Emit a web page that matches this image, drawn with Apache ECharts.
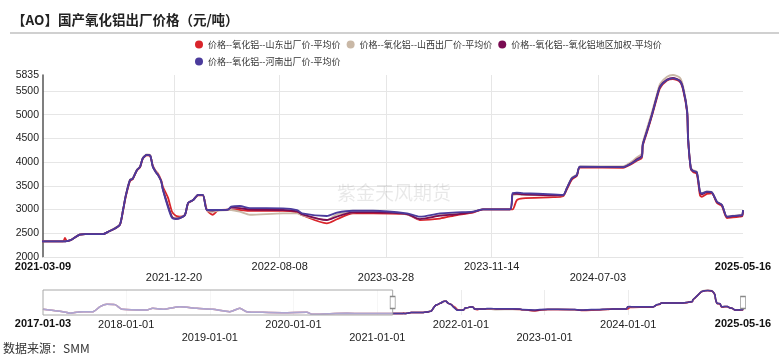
<!DOCTYPE html>
<html><head><meta charset="utf-8">
<script src="https://cdn.jsdelivr.net/npm/echarts@6.0.0/dist/echarts.min.js"></script>
<style>html,body{margin:0;padding:0;background:#fff}#c{width:779px;height:356px}</style>
</head><body><div id="c"></div><script>
const titleText = '【AO】国产氧化铝出厂价格（元/吨）';
const sourceText = '数据来源：SMM';
const watermarkText = '紫金天风期货';
const seriesNames = ['价格--氧化铝--山东出厂价-平均价','价格--氧化铝--山西出厂价-平均价','价格--氧化铝--氧化铝地区加权-平均价','价格--氧化铝--河南出厂价-平均价'];
const mainLabels = ['2021-03-09','2021-12-20','2022-08-08','2023-03-28','2023-11-14','2024-07-03','2025-05-16'];
const overviewLabels = ['2017-01-03','2018-01-01','2019-01-01','2020-01-01','2021-01-01','2022-01-01','2023-01-01','2024-01-01','2025-05-16'];
const yTicks = [2000,2500,3000,3500,4000,4500,5000,5500];
const overviewMin = 2100;

const dates = [
'2017-01-03','2017-03-31','2017-05-01','2017-05-31','2017-06-27','2017-08-09','2017-09-09','2017-10-09','2017-11-13','2017-12-14',
'2018-04-01','2018-04-27','2018-06-10','2018-08-23','2018-11-05',
'2019-01-14','2019-03-29','2019-05-12','2019-06-11','2019-08-20','2019-11-15',
'2020-02-28','2020-03-25','2020-06-08','2020-08-21','2020-10-30','2021-02-24',
'2021-03-09','2021-04-22','2021-04-26','2021-04-30','2021-05-03','2021-05-11','2021-05-28','2021-06-09','2021-07-18','2021-07-29','2021-08-13','2021-08-24','2021-08-31','2021-09-06','2021-09-15','2021-09-21','2021-09-30','2021-10-07','2021-10-13','2021-10-22','2021-10-29','2021-11-04','2021-11-11','2021-11-15','2021-11-22','2021-11-26','2021-12-07','2021-12-16','2021-12-24',
'2022-01-02','2022-01-13','2022-01-20','2022-01-31','2022-02-11','2022-02-21','2022-03-02','2022-03-15','2022-03-26','2022-04-17','2022-04-24','2022-05-13','2022-06-04','2022-08-15','2022-09-15','2022-09-26','2022-11-19','2022-12-11',
'2023-01-15','2023-02-28','2023-05-13','2023-06-10','2023-07-24','2023-08-30','2023-10-04','2023-10-26','2023-12-24','2023-12-30',
'2024-01-08','2024-01-21','2024-03-27','2024-04-18','2024-04-26','2024-05-07','2024-05-18','2024-05-25','2024-08-27','2024-09-15','2024-09-26','2024-10-07','2024-10-09','2024-10-18','2024-10-29','2024-11-09','2024-11-16','2024-12-01','2024-12-14','2024-12-29',
'2025-01-05','2025-01-14','2025-01-16','2025-01-22','2025-01-27','2025-02-04','2025-02-11','2025-02-15','2025-02-26','2025-03-09','2025-03-20','2025-03-31','2025-04-11','2025-04-24','2025-05-09','2025-05-14','2025-05-16'
];

const shandong = [
2950,2600,2380,2500,2600,2600,3340,3700,3650,2950,
2850,3100,2950,3340,3100,
2950,2600,3100,2600,2500,2450,
2500,2200,2300,2350,2330,2340,
2330,2330,2400,2340,2340,2370,2470,2480,2480,2530,2600,2680,2980,3280,3600,3640,3820,3890,4070,4140,4130,3920,3800,3760,3620,3480,3250,2950,2870,
2850,2885,3130,3200,3300,3300,2990,2890,2980,3000,3000,2990,2970,2970,2940,2880,2710,2795,
2920,2920,2900,2780,2810,2885,2935,3005,3005,3005,
3200,3237,3260,3280,3420,3630,3710,3890,3880,3960,4030,4090,4340,4620,4970,5350,5560,5720,5750,5690,
5530,5040,4480,3850,3790,3750,3300,3270,3330,3340,3140,3070,2820,2835,2850,2855,2950
];
const shanxi = [
2950,2600,2380,2500,2600,2600,3340,3700,3650,2950,
2850,3100,2950,3340,3100,
2950,2600,3100,2600,2500,2450,
2500,2200,2300,2350,2330,2340,
2330,2330,2330,2335,2340,2370,2470,2480,2480,2530,2610,2690,3010,3310,3630,3660,3840,3910,4090,4160,4150,3910,3790,3740,3600,3430,3100,2850,2820,
2830,2885,3140,3200,3310,3310,2990,2950,2980,2990,2990,2955,2890,2920,2920,2880,2780,2900,
2940,2950,2900,2800,2880,2920,2950,3005,3005,3300,
3320,3310,3300,3300,3450,3670,3740,3910,3910,4010,4100,4180,4400,4700,5050,5430,5650,5800,5835,5780,
5600,5100,4530,3890,3830,3800,3380,3350,3380,3365,3170,3100,2855,2870,2880,2885,2990
];
const weighted = [
2950,2600,2380,2500,2600,2600,3340,3700,3650,2950,
2850,3100,2950,3340,3100,
2950,2600,3100,2600,2500,2450,
2500,2200,2300,2350,2330,2340,
2330,2330,2330,2335,2340,2370,2470,2480,2480,2530,2600,2680,3000,3300,3620,3650,3830,3900,4080,4150,4140,3900,3780,3730,3600,3420,3080,2840,2810,
2820,2885,3140,3200,3310,3310,2990,2980,2990,3000,3040,3030,3000,2990,2960,2900,2780,2850,
2940,2940,2905,2800,2870,2900,2945,3005,3005,3330,
3330,3320,3300,3300,3440,3650,3720,3900,3895,3980,4060,4130,4370,4650,5000,5390,5600,5740,5775,5715,
5560,5070,4510,3870,3810,3780,3360,3320,3370,3355,3160,3090,2845,2860,2870,2875,2980
];
const henan = [
2950,2600,2380,2500,2600,2600,3340,3700,3650,2950,
2850,3100,2950,3340,3100,
2950,2600,3100,2600,2500,2450,
2500,2200,2300,2350,2330,2340,
2330,2330,2330,2335,2340,2370,2470,2480,2480,2530,2600,2680,3000,3300,3620,3650,3830,3900,4080,4150,4140,3900,3780,3730,3600,3410,3050,2820,2800,
2820,2885,3140,3200,3310,3310,2990,2990,2990,3000,3060,3075,3030,3026,2990,2920,2864,2934,
2975,2975,2920,2850,2920,2940,2955,3005,3005,3350,
3355,3345,3320,3306,3447,3658,3728,3903,3895,3974,4044,4113,4360,4640,4992,5377,5588,5730,5765,5708,
5554,5062,4500,3869,3812,3790,3376,3340,3376,3360,3165,3096,2850,2865,2875,2880,2990
];

const colors = ['#d9252b','#c9b8a6','#7a0c52','#4b3b9c'];
const valueSets = [shandong, shanxi, weighted, henan];
const yMax = Math.max(...valueSets.map(a => Math.max(...a)));

const P = s => echarts.number.parseDate(s).getTime();
const fmt = v => echarts.time.format(v, '{yyyy}-{MM}-{dd}', false);
const numFont = "'Liberation Sans', Arial, sans-serif";
const cjkFont = "'Noto Sans CJK SC', sans-serif";

function labelFormatter(list, rowTwoOdd) {
  return function (value) {
    const s = fmt(value);
    const i = list.indexOf(s);
    if (i === 0 || i === list.length - 1) return '{b|' + s + '}';
    const second = rowTwoOdd ? (i % 2 === 1) : (i % 2 === 0);
    return second ? '\n' + s : s;
  };
}
const labelRich = { b: { fontWeight: 'bold', fontSize: 11, fontFamily: numFont, color: '#111', lineHeight: 11 } };

const pairs = arr => dates.map((d, i) => [P(d), arr[i]]);

const series = [];
valueSets.forEach((arr, k) => {
  series.push({
    name: seriesNames[k], type: 'line', xAxisIndex: 0, yAxisIndex: 0,
    data: pairs(arr), showSymbol: false, symbol: 'none', smooth: 0.25, clip: true,
    lineStyle: { width: 1.8, color: colors[k] }, itemStyle: { color: colors[k] },
    z: 2 + k, animation: false
  });
});
valueSets.forEach((arr, k) => {
  const s = {
    name: seriesNames[k], type: 'line', xAxisIndex: 1, yAxisIndex: 1,
    data: pairs(arr), showSymbol: false, symbol: 'none', smooth: 0.25, silent: true, clip: true,
    lineStyle: { width: 1.5, color: colors[k] }, itemStyle: { color: colors[k] },
    z: 2 + k, animation: false
  };
  if (k === 0) {
    const mid = (overviewMin + yMax) / 2;
    s.markArea = {
      silent: true, z: 10,
      itemStyle: { color: 'rgba(255,255,255,0.55)', borderColor: '#a8a8a8', borderWidth: 1 },
      label: { show: false },
      data: [[{ xAxis: P(overviewLabels[0]) }, { xAxis: P(mainLabels[0]) }]]
    };
    s.markPoint = {
      silent: true, z: 11, symbol: 'rect', symbolSize: [5, 12],
      itemStyle: { color: '#fff', borderColor: '#888', borderWidth: 1 },
      label: { show: false },
      data: [{ coord: [P(mainLabels[0]), mid] }, { coord: [P(mainLabels[mainLabels.length - 1]), mid] }]
    };
  }
  series.push(s);
});

const chart = echarts.init(document.getElementById('c'), null, { renderer: 'canvas' });
chart.setOption({
  animation: false,
  backgroundColor: '#fff',
  color: colors,
  title: { text: titleText, left: 12, top: 13, padding: 0,
    textStyle: { fontSize: 13.5, fontWeight: 'bold', color: '#222', fontFamily: cjkFont } },
  legend: [
    { data: seriesNames.slice(0, 3), left: 195, top: 40, padding: 0, itemGap: 6, itemWidth: 8, itemHeight: 8, icon: 'circle',
      textStyle: { fontSize: 9, color: '#333', fontFamily: cjkFont } },
    { data: seriesNames.slice(3), left: 195, top: 57, padding: 0, itemGap: 6, itemWidth: 8, itemHeight: 8, icon: 'circle',
      textStyle: { fontSize: 9, color: '#333', fontFamily: cjkFont } }
  ],
  grid: [
    { left: 43, right: 36, top: 75, height: 182, outerBoundsMode: 'none', containLabel: false },
    { left: 43, right: 36, top: 290, height: 25, outerBoundsMode: 'none', containLabel: false }
  ],
  xAxis: [
    { type: 'value', gridIndex: 0, min: P(mainLabels[0]), max: P(mainLabels[mainLabels.length - 1]),
      axisLine: { show: true, lineStyle: { color: '#e4e4e4', width: 1 } },
      axisTick: { show: false, customValues: mainLabels.slice(1, -1).map(P) },
      splitLine: { show: true, lineStyle: { color: '#e6e6e6', width: 1 } },
      axisLabel: { customValues: mainLabels.map(P), formatter: labelFormatter(mainLabels, true), rich: labelRich,
        fontSize: 11, fontFamily: numFont, color: '#222', lineHeight: 11, margin: 4, hideOverlap: false } },
    { type: 'value', gridIndex: 1, min: P(overviewLabels[0]), max: P(overviewLabels[overviewLabels.length - 1]),
      axisLine: { show: false },
      axisTick: { show: false, customValues: overviewLabels.slice(1, -1).map(P) },
      splitLine: { show: true, lineStyle: { color: '#ececec', width: 1 } },
      axisLabel: { customValues: overviewLabels.map(P), formatter: labelFormatter(overviewLabels, false), rich: labelRich,
        fontSize: 11, fontFamily: numFont, color: '#222', lineHeight: 13, margin: 3, hideOverlap: false } }
  ],
  yAxis: [
    { type: 'value', gridIndex: 0, min: yTicks[0], max: yMax,
      axisLine: { show: true, lineStyle: { color: '#555', width: 1.5 } },
      axisTick: { show: false, customValues: yTicks },
      splitLine: { show: true, lineStyle: { color: '#e6e6e6', width: 1 } },
      axisLabel: { customValues: yTicks.concat([yMax]), formatter: v => String(v), fontSize: 10.5, fontFamily: numFont, color: '#222', margin: 4, hideOverlap: false } },
    { type: 'value', gridIndex: 1, min: overviewMin, max: yMax, show: false, splitLine: { show: false } }
  ],
  graphic: [
    { type: 'line', shape: { x1: 10, y1: 33, x2: 779, y2: 33 }, style: { stroke: '#d0d0d0', lineWidth: 2 }, silent: true },
    { type: 'text', x: 394, y: 193, z: 1, silent: true,
      style: { text: watermarkText, fill: 'rgba(0,0,0,0.09)', font: "19px 'Noto Sans CJK SC'", align: 'center', verticalAlign: 'middle' } },
    { type: 'text', left: 3, top: 342, silent: true,
      style: { text: sourceText, fill: '#333', font: "12px 'Noto Sans CJK SC'" } }
  ],
  series: series
});
</script></body></html>
